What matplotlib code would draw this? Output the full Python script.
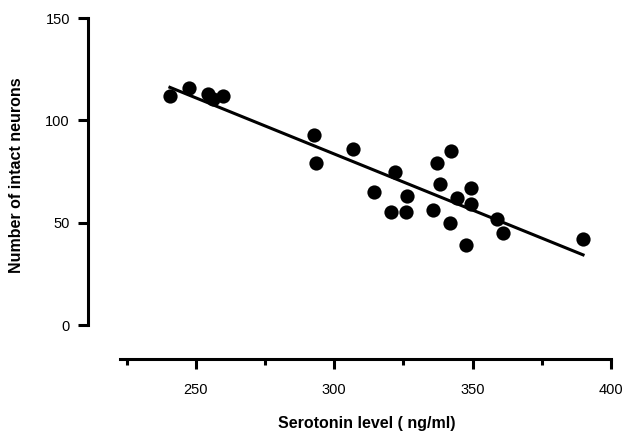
import numpy as np
import matplotlib
matplotlib.use("Agg")
import matplotlib.pyplot as plt

plt.rcParams['font.family'] = ['Liberation Sans', 'DejaVu Sans']

# serotonin level (ng/ml) and number of intact neurons
serotonin = [240.6, 247.5, 254.3, 256.1, 259.8,
             292.6, 293.4, 306.7, 314.3, 320.5, 321.9, 325.9, 326.3,
             335.7, 337.1, 338.2, 341.8, 342.2, 344.3, 347.6, 349.4, 349.4,
             358.8, 361.0, 389.9]
neurons = [112, 116, 113, 110.5, 112,
           93, 79, 86, 65, 55, 75, 55, 63,
           56, 79, 69, 50, 85, 62, 39, 67, 59,
           52, 45, 42]

x_ticks = [250, 300, 350, 400]
y_ticks = [0, 50, 100, 150]

x = np.array(serotonin)
y = np.array(neurons)
slope, intercept = np.polyfit(x, y, 1)
fit_x = np.array([x.min(), x.max()])
fit_y = slope * fit_x + intercept

fig = plt.figure(figsize=(6.27, 4.32), dpi=100)
ax = fig.add_axes([88 / 627, 73 / 432, 523 / 627, 341 / 432])

ax.scatter(x, y, s=105, color='black', zorder=3, linewidths=0)
ax.plot(fit_x, fit_y, color='black', lw=2.2, zorder=2)

ax.set_xlim(211, 400)
ax.set_ylim(-16.6, 150)

for side in ['top', 'right']:
    ax.spines[side].set_visible(False)
ax.spines['left'].set_bounds(0, 150)
ax.spines['bottom'].set_bounds(222.5, 400)
ax.spines['left'].set_linewidth(2.2)
ax.spines['bottom'].set_linewidth(2.2)

ax.set_xticks(x_ticks)
ax.set_xticks([225, 275, 325, 375], minor=True)
ax.set_yticks(y_ticks)
ax.tick_params(axis='both', which='major', length=7, width=2.2, labelsize=10.5)
ax.tick_params(axis='x', which='major', pad=10)
ax.tick_params(axis='y', which='major', pad=6)
ax.tick_params(axis='x', which='minor', length=4, width=2.2)

ax.set_xlabel('Serotonin level ( ng/ml)', fontsize=11.5, fontweight='bold')
ax.set_ylabel('Number of intact neurons', fontsize=11.5, fontweight='bold')
ax.xaxis.set_label_coords(0.533, -0.188)
ax.xaxis.label.set_va('center')
ax.yaxis.set_label_coords(-0.136, 0.54)
ax.yaxis.label.set_va('center')

fig.savefig('out.png', dpi=100)
